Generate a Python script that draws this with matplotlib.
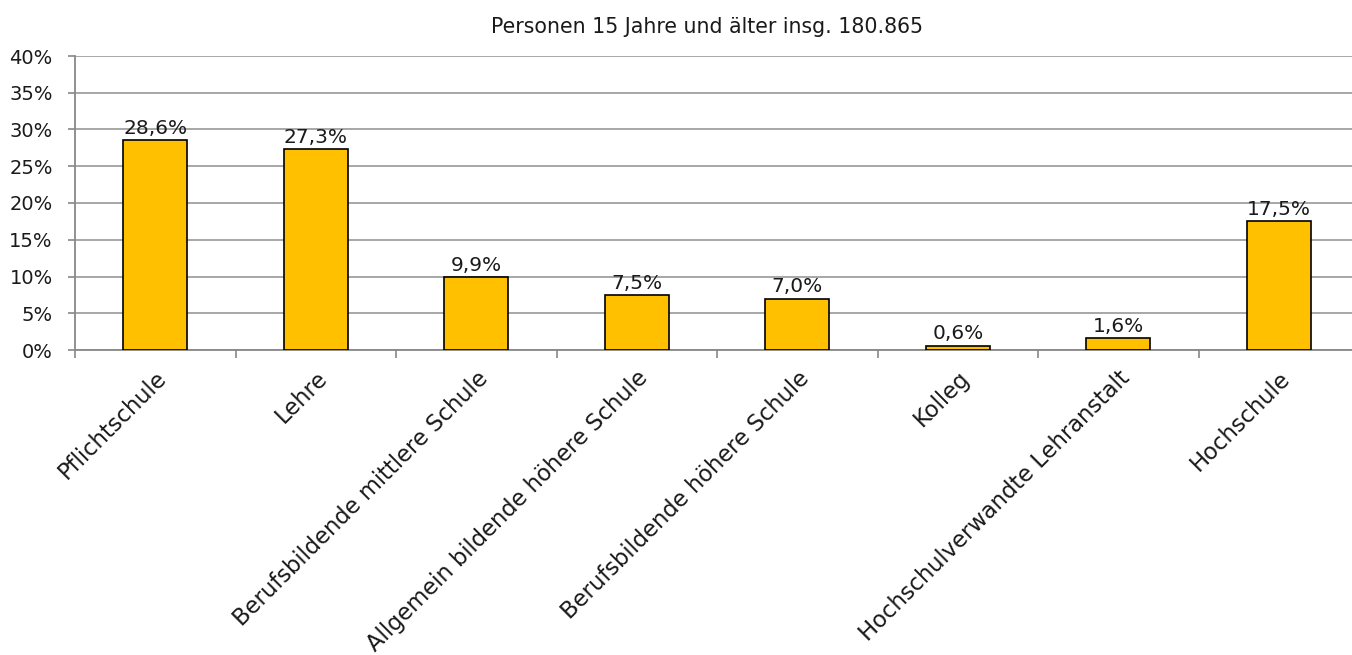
import numpy as np
import matplotlib.pyplot as plt
from matplotlib.ticker import FuncFormatter

# Daten
kategorien = ["Pflichtschule", "Lehre", "Berufsbildende mittlere Schule",
              "Allgemein bildende höhere Schule", "Berufsbildende höhere Schule",
              "Kolleg", "Hochschulverwandte Lehranstalt", "Hochschule"]
anteile = [28.6, 27.3, 9.9, 7.5, 7.0, 0.6, 1.6, 17.5]
titel = "Personen 15 Jahre und älter insg. 180.865"

plt.rcParams["font.family"] = ["DejaVu Sans"]

fig = plt.figure(figsize=(13.52, 6.55), dpi=100)
ax = fig.add_axes([75 / 1352, 1 - 350 / 655, 1284 / 1352, 294 / 655])

x = np.arange(len(kategorien))
ax.bar(x, anteile, width=0.4, color="#FFC000", edgecolor="black", linewidth=1.2, zorder=3)

for xi, v in zip(x, anteile):
    ax.text(xi, v + 0.3, ("%.1f%%" % v).replace(".", ","), ha="center", va="bottom",
            fontsize=14.5, color="#1a1a1a")

ax.set_xlim(-0.5, len(kategorien) - 0.5)
ax.set_ylim(0, 40)
ax.set_yticks(np.arange(0, 41, 5))
ax.yaxis.set_major_formatter(FuncFormatter(lambda v, p: "%d%%" % v))
ax.grid(axis="y", color="#a0a0a0", linewidth=1.3, zorder=0)

# Ticks zwischen den Kategorien
ax.set_xticks(x)
ax.set_xticklabels(kategorien, rotation=45, ha="right", va="top", rotation_mode="anchor",
                   fontsize=16.3, color="#1a1a1a")
ax.tick_params(axis="x", length=0, pad=12)
ax.set_xticks(np.arange(-0.5, len(kategorien)), minor=True)
ax.tick_params(axis="x", which="minor", length=6, color="#888888", width=1.2)
ax.tick_params(axis="y", length=5, color="#888888", width=1.2, labelsize=14,
               labelcolor="#1a1a1a", pad=11)

for s in ["top", "right"]:
    ax.spines[s].set_visible(False)
for s in ["left", "bottom"]:
    ax.spines[s].set_color("#888888")
    ax.spines[s].set_linewidth(1.3)

fig.text(707 / 1352, 1 - 27 / 655, titel, ha="center", va="center", fontsize=14.8,
         color="#1a1a1a")

plt.savefig("out.png", dpi=100)
